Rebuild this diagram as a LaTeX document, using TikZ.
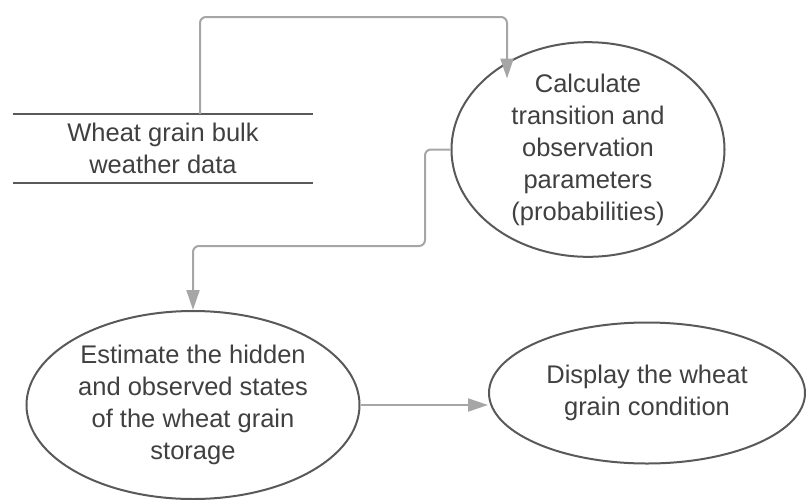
\documentclass[tikz,border=0pt]{standalone}
\usepackage{fontspec}
\setmainfont{Liberation Sans}
\usetikzlibrary{shapes.geometric,arrows.meta,calc}
\definecolor{outl}{HTML}{595959}
\definecolor{conn}{HTML}{A6A6A6}
\definecolor{txt}{HTML}{404040}
\tikzset{
  proc/.style={ellipse, draw=outl, line width=2pt, inner sep=0pt, align=center,
    text=txt, font=\fontsize{25.5}{32}\selectfont},
  storelbl/.style={inner sep=0pt, align=center, text=txt, font=\fontsize{25.5}{32}\selectfont},
  storeline/.style={draw=outl, line width=2.5pt},
  flow/.style={draw=conn, line width=2pt, rounded corners=6pt,
    -{Triangle[length=20pt,width=13pt,fill=conn]}}
}
\begin{document}
\begin{tikzpicture}[x=1pt,y=-1pt]
\useasboundingbox (0,0) rectangle (806,499);
% data store
\node[storelbl, minimum width=300pt, minimum height=69pt] (ds) at (163,148.5)
  {Wheat grain bulk\\weather data};
\draw[storeline] (ds.north west) -- (ds.north east);
\draw[storeline] (ds.south west) -- (ds.south east);
% processes
\node[proc, minimum width=273pt, minimum height=175pt] (e1) at (588,149.5)
  {Calculate\\transition and\\observation\\parameters\\(probabilities)};
\node[proc, minimum width=333pt, minimum height=188pt] (e2) at (193,405)
  {Estimate the hidden\\and observed states\\of the wheat grain\\storage};
\node[proc, minimum width=316pt, minimum height=141pt] (e3) at (647,393)
  {Display the wheat\\grain condition};
% connector helpers
\coordinate (c1) at (200,17);
\coordinate (c3) at (425,246);
\coordinate (t1) at ($(e1.center)+(-81,-71)$);
% connectors
\draw[flow] (ds.north -| c1) -- (c1) -| (t1);
\draw[flow] (e1.west) -| (c3) -| (e2.north);
\draw[flow] (e2.east) -- (e2.east -| e3.west);
\end{tikzpicture}
\end{document}
